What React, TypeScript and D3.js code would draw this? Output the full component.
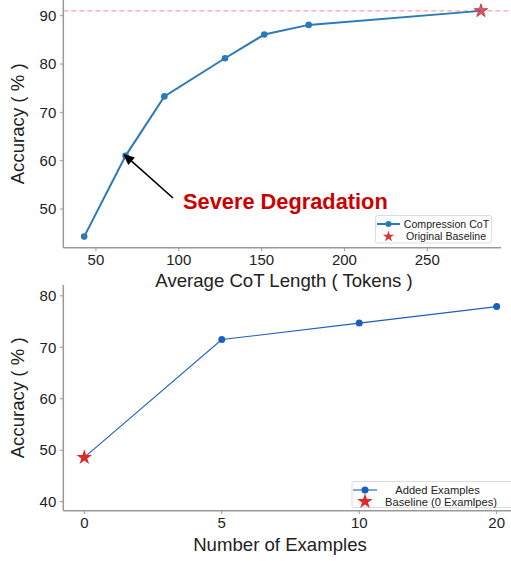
import React from 'react';
import * as d3 from 'd3';

// top panel: compression CoT
const cotLength = [42.9, 67.9, 91.3, 127.9, 151.6, 178.4];
const cotAccuracy = [44.3, 61.0, 73.3, 81.2, 86.1, 88.1];
const baselineLength = 282.4;
const baselineAccuracy = 91.0;
const topXTicks = [50, 100, 150, 200, 250];
const topYTicks = [50, 60, 70, 80, 90];

// bottom panel: added examples
const exampleLabels = ['0', '5', '10', '20'];
const exampleAccuracy = [48.6, 71.5, 74.7, 77.9];
const bottomYTicks = [40, 50, 60, 70, 80];

const FONT = '"Liberation Sans", Arial, Helvetica, sans-serif';
const AXIS = '#999';
const TEXT = '#222';

const star = (size: number) => d3.symbol().type(d3.symbolStar).size(size)() as string;

const App = () => {
  // top scales
  const tLeft = 63.3, tRight = 501, tTop = 0, tBottom = 247.7;
  const x1 = d3.scaleLinear().domain([30.3, 294.5]).range([tLeft, tRight]);
  const y1 = d3.scaleLinear().domain([42, 93.25]).range([tBottom, tTop]);
  const topLine = [...cotAccuracy, baselineAccuracy];
  const topLinePath = d3.line<number>()
    .x((d, i) => x1(i < cotLength.length ? cotLength[i] : baselineLength))
    .y((d) => y1(d))(topLine) as string;

  // bottom scales
  const bLeft = 63.3, bTop = 285, bBottom = 510.7;
  const x2 = d3.scalePoint<string>().domain(exampleLabels).range([84.3, 496.7]);
  const y2 = d3.scaleLinear().domain([38.25, 82.1]).range([bBottom, bTop]);
  const line2 = d3.line<number>()
    .x((d, i) => x2(exampleLabels[i]) as number)
    .y((d) => y2(d));

  // arrow annotation pointing at the second point
  const ax = x1(cotLength[1]), ay = y1(cotAccuracy[1]);
  const sx = 173, sy = 198;
  const ang = Math.atan2(ay - sy, ax - sx);
  const tip = [ax + 3 * Math.cos(ang), ay + 3 * Math.sin(ang)];
  const hl = 11, hw = 5;
  const base = [tip[0] - hl * Math.cos(ang), tip[1] - hl * Math.sin(ang)];
  const head = [
    tip,
    [base[0] + hw * Math.sin(ang), base[1] - hw * Math.cos(ang)],
    [base[0] - hw * Math.sin(ang), base[1] + hw * Math.cos(ang)],
  ].map((p) => p.join(',')).join(' ');

  return (
    <svg width={511} height={561} style={{ position: 'absolute', left: 0, top: 0, background: '#fff' }} fontFamily={FONT}>
      {/* ---------- top panel ---------- */}
      <line x1={tLeft} x2={511} y1={y1(baselineAccuracy)} y2={y1(baselineAccuracy)} stroke="#f4a6ae" strokeWidth={1.2} strokeDasharray="5,3" />
      <line x1={tLeft} x2={tLeft} y1={tTop} y2={tBottom} stroke={AXIS} strokeWidth={1.5} />
      <line x1={tLeft} x2={tRight} y1={tBottom} y2={tBottom} stroke={AXIS} strokeWidth={1.5} />
      {topYTicks.map((t) => (
        <g key={t} transform={`translate(${tLeft},${y1(t)})`}>
          <line x1={-3.5} x2={0} stroke={AXIS} />
          <text x={-7} dy="0.35em" textAnchor="end" fontSize={15} fill={TEXT}>{t}</text>
        </g>
      ))}
      {topXTicks.map((t) => (
        <g key={t} transform={`translate(${x1(t)},${tBottom})`}>
          <line y1={0} y2={3.5} stroke={AXIS} />
          <text y={6} dy="0.75em" textAnchor="middle" fontSize={15} fill={TEXT}>{t}</text>
        </g>
      ))}
      <path d={topLinePath} fill="none" stroke="#2a7ab8" strokeWidth={2} />
      {cotAccuracy.map((v, i) => (
        <circle key={i} cx={x1(cotLength[i])} cy={y1(v)} r={3.3} fill="#2a7ab8" />
      ))}
      <path d={star(55)} transform={`translate(${x1(baselineLength)},${y1(baselineAccuracy)})`} fill="#c8424f" fillOpacity={0.85} stroke="#c8424f" />
      <line x1={sx} y1={sy} x2={base[0]} y2={base[1]} stroke="#000" strokeWidth={1.6} />
      <polygon points={head} fill="#000" />
      <text x={183} y={209} fontSize={21.8} fontWeight="bold" fill="#cc0000">Severe Degradation</text>
      <text x={284} y={286.5} textAnchor="middle" fontSize={18.6} fill={TEXT}>Average CoT Length ( Tokens )</text>
      <text transform={`translate(24,${(tTop + tBottom) / 2}) rotate(-90)`} textAnchor="middle" fontSize={18.6} fill={TEXT}>Accuracy ( % )</text>
      {/* top legend */}
      <rect x={375.5} y={215.5} width={116} height={27.5} fill="#fff" stroke="#ddd" rx={2} />
      <line x1={377} x2={400} y1={224} y2={224} stroke="#2a7ab8" strokeWidth={2} />
      <circle cx={388.5} cy={224} r={3} fill="#2a7ab8" />
      <path d={star(40)} transform="translate(388.5,236.5)" fill="#e03038" />
      <text x={446.5} y={224} dy="0.35em" textAnchor="middle" fontSize={10.6} fill={TEXT}>Compression CoT</text>
      <text x={446} y={236.7} dy="0.35em" textAnchor="middle" fontSize={10.6} fill={TEXT}>Original Baseline</text>

      {/* ---------- bottom panel ---------- */}
      <line x1={bLeft} x2={bLeft} y1={bTop} y2={bBottom} stroke={AXIS} strokeWidth={1.5} />
      <line x1={bLeft} x2={511} y1={bBottom} y2={bBottom} stroke={AXIS} strokeWidth={1.5} />
      {bottomYTicks.map((t) => (
        <g key={t} transform={`translate(${bLeft},${y2(t)})`}>
          <line x1={-3.5} x2={0} stroke={AXIS} />
          <text x={-7} dy="0.35em" textAnchor="end" fontSize={15} fill={TEXT}>{t}</text>
        </g>
      ))}
      {exampleLabels.map((t) => (
        <g key={t} transform={`translate(${x2(t)},${bBottom})`}>
          <line y1={0} y2={3.5} stroke={AXIS} />
          <text y={6} dy="0.75em" textAnchor="middle" fontSize={15} fill={TEXT}>{t}</text>
        </g>
      ))}
      <path d={line2(exampleAccuracy) as string} fill="none" stroke="#1a5fc0" strokeWidth={1.1} />
      {exampleAccuracy.slice(1).map((v, i) => (
        <circle key={i} cx={x2(exampleLabels[i + 1])} cy={y2(v)} r={3.5} fill="#1a5fc0" />
      ))}
      <path d={star(75)} transform={`translate(${x2(exampleLabels[0])},${y2(exampleAccuracy[0])})`} fill="#e0282a" />
      <text x={280} y={551} textAnchor="middle" fontSize={18.6} fill={TEXT}>Number of Examples</text>
      <text transform={`translate(24,${(bTop + bBottom) / 2}) rotate(-90)`} textAnchor="middle" fontSize={18.6} fill={TEXT}>Accuracy ( % )</text>
      {/* bottom legend */}
      <rect x={352} y={481.5} width={165} height={26} fill="#fff" stroke="#ddd" rx={2} />
      <line x1={353} x2={377} y1={490} y2={490} stroke="#1a5fc0" strokeWidth={1.1} />
      <circle cx={365} cy={490} r={3.5} fill="#1a5fc0" />
      <path d={star(75)} transform="translate(365,501.5)" fill="#e0282a" />
      <text x={437.5} y={490.5} dy="0.35em" textAnchor="middle" fontSize={11.2} fill={TEXT}>Added Examples</text>
      <text x={441} y={501.8} dy="0.35em" textAnchor="middle" fontSize={11.2} fill={TEXT}>Baseline (0 Examlpes)</text>
    </svg>
  );
};

export default App;
